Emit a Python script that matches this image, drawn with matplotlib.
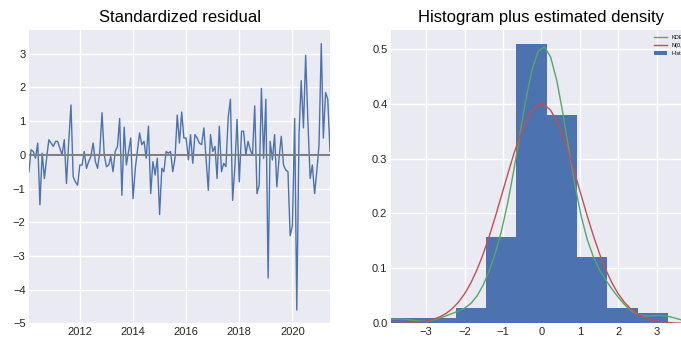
import numpy as np
import pandas as pd
import matplotlib
matplotlib.use("Agg")
import matplotlib.pyplot as plt
import matplotlib.dates as mdates

# standardized residuals, monthly from Feb 2010
resid = [
    -0.5, 0.15, 0.1, -0.1, 0.35, -1.48, 0.05, -0.7, -0.1, 0.45,
    0.35, 0.25, 0.4, 0.4, 0.2, 0.0, 0.45, -0.85, 0.4, 1.48,
    -0.65, -0.8, -0.9, -0.3, -0.3, 0.1, -0.4, -0.2, -0.05, 0.35,
    -0.2, -0.4, 0.1, 1.25, 0.0, -0.35, -0.3, -0.05, -0.5, 0.1,
    0.25, 1.08, -1.2, 0.82, -0.3, 0.1, 0.5, -1.3, -0.4, 0.1,
    0.65, 0.3, 0.4, -0.1, 0.85, -1.15, -0.2, -0.6, -0.1, -1.77,
    -0.4, -0.5, 0.1, 0.05, 0.1, -0.5, -0.1, 1.18, 0.35, 1.27,
    0.5, 0.5, -0.15, 0.6, -0.25, 0.6, 0.5, 0.35, 0.3, 0.8,
    -0.1, -1.05, 0.6, 0.1, 0.25, -0.7, 0.85, -0.5, -0.25, -0.35,
    1.1, 1.65, -1.35, -0.35, 1.05, -0.8, 0.7, 0.7, 0.0, 0.4,
    0.15, -0.02, 1.45, -1.15, -0.9, 1.97, -0.1, 1.65, -3.65, 0.4,
    -0.15, 0.6, -0.95, -0.1, 0.55, -0.3, -0.45, -0.5, -2.4, -2.1,
    1.08, -4.6, 0.6, 2.2, 0.8, 2.95, 1.0, -0.7, -0.3, -1.15,
    -0.5, 0.3, 3.3, 0.5, 1.85, 1.65, 0.1,
]
start_month = "2010-02-01"
year_ticks = [2012, 2014, 2016, 2018, 2020]
kde_ticks = [-3, -2, -1, 0, 1, 2, 3]

resid = np.array(resid)
dates = pd.date_range(start_month, periods=len(resid), freq="MS")

BG = "#EAEAF2"
TXT = "#262626"
plt.rcParams["font.family"] = ["Liberation Sans", "DejaVu Sans"]

fig = plt.figure(figsize=(6.81, 3.38), dpi=100)
ax1 = fig.add_axes([0.0426, 0.043, 0.442, 0.868])
ax2 = fig.add_axes([0.574, 0.043, 0.442, 0.868])

for ax in (ax1, ax2):
    ax.set_facecolor(BG)
    ax.grid(True, color="white", linewidth=1)
    ax.set_axisbelow(True)
    for s in ax.spines.values():
        s.set_visible(False)
    ax.tick_params(length=0, labelsize=8, colors=TXT, pad=2.5)

# Standardized residual
ax1.plot(dates, resid, color="#4C72B0", linewidth=1)
ax1.hlines(0, dates[0], dates[-1], color="#808080", linewidth=1.5)
ax1.set_xlim(dates[0], dates[-1])
ax1.set_ylim(-5.0, 3.7)
ax1.set_yticks(range(-5, 4))
ax1.set_xticks([pd.Timestamp(f"{y}-01-01") for y in year_ticks])
ax1.xaxis.set_major_formatter(mdates.DateFormatter("%Y"))
ax1.set_title("Standardized residual", fontsize=12, color="black")

# Histogram plus estimated density
ax2.hist(resid, density=True, color="#4C72B0", label="Hist")
xlim = (-1.96 * 2, 1.96 * 2)
x = np.linspace(xlim[0], xlim[1], 50)
bw = resid.std(ddof=1) * len(resid) ** (-1 / 5)
kde = np.exp(-0.5 * ((x[:, None] - resid[None, :]) / bw) ** 2).sum(axis=1)
kde /= len(resid) * bw * np.sqrt(2 * np.pi)
ax2.plot(x, kde, color="#55A868", linewidth=1, label="KDE")
ax2.plot(x, np.exp(-0.5 * x ** 2) / np.sqrt(2 * np.pi), color="#C44E52",
         linewidth=1, label="N(0,1)")
ax2.set_xlim(xlim)
ax2.set_xticks(kde_ticks)
ax2.set_yticks(np.arange(0, 0.51, 0.1))
ax2.set_title("Histogram plus estimated density", fontsize=12, color="black")
h, l = ax2.get_legend_handles_labels()
ax2.legend(h[1:] + h[:1], l[1:] + l[:1], loc="upper right", fontsize=4,
           frameon=False, handlelength=2.3)

fig.savefig("out.png", dpi=100)
